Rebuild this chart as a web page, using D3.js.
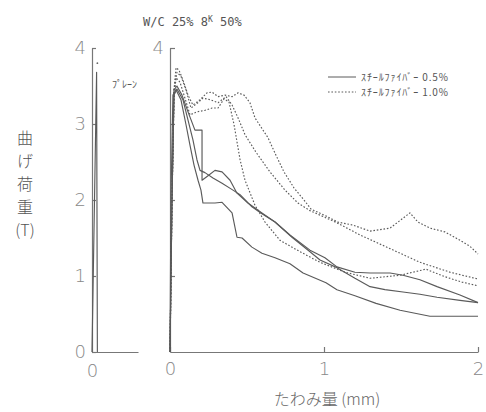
<!DOCTYPE html>
<html>
<head>
<meta charset="utf-8">
<script src="https://cdn.jsdelivr.net/npm/d3@7"></script>
<style>
  body { margin: 0; background: #fff; }
  .axis path, .axis line { stroke: #777; stroke-width: 1.2; }
  .axis text { fill: #888; font-family: "DejaVu Sans", sans-serif; font-size: 18px; font-weight: 200; }
  .curve { fill: none; stroke: #5a5a5a; stroke-width: 1.15; stroke-linejoin: round; }
  .dotted { stroke-dasharray: 1.6 1.8; }
</style>
</head>
<body>
<script>
// たわみ量 (mm) / 曲げ荷重 (T)
var plainX = [0, 0.03, 0.035];
var plainY = [0, 3.68, 0];

// スチールファイバー 0.5% (実線)
var s1x = [0, 0.013, 0.026, 0.045, 0.078, 0.117, 0.162, 0.208, 0.208, 0.247, 0.292, 0.338, 0.390, 0.435, 0.506, 0.597, 0.682, 0.779, 0.909, 1.006, 1.084, 1.201, 1.299, 1.429, 1.513, 1.623, 1.734, 1.883, 2.0];
var s1y = [0, 2.0, 3.45, 3.5, 3.38, 3.16, 2.92, 2.92, 2.26, 2.32, 2.39, 2.37, 2.26, 2.09, 1.96, 1.83, 1.71, 1.54, 1.34, 1.24, 1.12, 1.05, 1.04, 1.04, 1.01, 0.95, 0.86, 0.75, 0.65];
var s2x = [0, 0.013, 0.026, 0.045, 0.084, 0.117, 0.149, 0.175, 0.195, 0.227, 0.279, 0.338, 0.409, 0.455, 0.532, 0.597, 0.682, 0.792, 0.909, 0.974, 1.084, 1.201, 1.299, 1.396, 1.513, 1.623, 1.734, 1.883, 2.0];
var s2y = [0, 2.0, 3.38, 3.46, 3.32, 3.05, 2.79, 2.53, 2.39, 2.36, 2.29, 2.22, 2.13, 2.07, 1.91, 1.82, 1.71, 1.51, 1.32, 1.21, 1.11, 0.97, 0.86, 0.82, 0.79, 0.76, 0.72, 0.68, 0.65];
var s3x = [0, 0.006, 0.019, 0.039, 0.071, 0.104, 0.130, 0.156, 0.182, 0.201, 0.214, 0.260, 0.292, 0.338, 0.403, 0.435, 0.468, 0.532, 0.597, 0.682, 0.779, 0.864, 1.013, 1.084, 1.201, 1.338, 1.494, 1.688, 1.818, 2.0];
var s3y = [0, 2.0, 3.38, 3.45, 3.32, 2.99, 2.72, 2.46, 2.26, 2.13, 1.96, 1.96, 1.96, 1.97, 1.83, 1.51, 1.50, 1.38, 1.30, 1.24, 1.16, 1.04, 0.91, 0.82, 0.74, 0.64, 0.55, 0.47, 0.47, 0.47];

// スチールファイバー 1.0% (点線)
var d1x = [0, 0.013, 0.026, 0.039, 0.058, 0.084, 0.117, 0.149, 0.195, 0.240, 0.273, 0.312, 0.357, 0.403, 0.442, 0.481, 0.519, 0.552, 0.636, 0.688, 0.740, 0.805, 0.870, 0.916, 1.013, 1.088, 1.188, 1.299, 1.429, 1.558, 1.610, 1.688, 1.786, 1.883, 1.948, 2.0];
var d1y = [0, 2.0, 3.45, 3.74, 3.71, 3.58, 3.38, 3.25, 3.32, 3.41, 3.42, 3.36, 3.38, 3.36, 3.41, 3.38, 3.28, 3.08, 2.82, 2.59, 2.37, 2.16, 2.00, 1.88, 1.79, 1.71, 1.67, 1.59, 1.63, 1.83, 1.71, 1.63, 1.58, 1.47, 1.39, 1.29];
var d2x = [0, 0.013, 0.026, 0.045, 0.071, 0.104, 0.136, 0.169, 0.214, 0.260, 0.312, 0.364, 0.403, 0.442, 0.487, 0.558, 0.649, 0.747, 0.831, 0.909, 1.084, 1.234, 1.429, 1.623, 1.818, 2.0];
var d2y = [0, 2.0, 3.45, 3.68, 3.63, 3.45, 3.21, 3.26, 3.34, 3.32, 3.28, 3.36, 3.25, 3.08, 2.86, 2.63, 2.37, 2.13, 1.96, 1.86, 1.70, 1.54, 1.36, 1.18, 1.05, 0.96];
var d3x = [0, 0.013, 0.026, 0.039, 0.065, 0.097, 0.130, 0.175, 0.227, 0.273, 0.312, 0.351, 0.383, 0.416, 0.455, 0.487, 0.552, 0.617, 0.714, 0.844, 0.974, 1.136, 1.299, 1.494, 1.662, 1.786, 1.896, 2.0];
var d3y = [0, 2.0, 3.32, 3.61, 3.55, 3.34, 3.12, 3.16, 3.18, 3.21, 3.21, 3.33, 3.29, 2.99, 2.53, 2.26, 1.93, 1.71, 1.47, 1.32, 1.18, 1.05, 0.97, 1.01, 1.09, 0.99, 0.92, 0.87];

var yTicks = [0, 1, 2, 3, 4];
var xTicksR = [0, 1, 2];
var legendLabels = ["ｽﾁｰﾙﾌｧｲﾊﾞｰ 0.5%", "ｽﾁｰﾙﾌｧｲﾊﾞｰ 1.0%"];

var width = 486, height = 412;
var svg = d3.select("body").append("svg").attr("width", width).attr("height", height);

var y = d3.scaleLinear().domain([0, 4]).range([352, 48]);
var xL = d3.scaleLinear().domain([0, 0.3]).range([92, 138]);
var xR = d3.scaleLinear().domain([0, 2]).range([170, 478]);
var fmt = d3.format("d");

// left panel (プレーン)
svg.append("g").attr("class", "axis")
  .attr("transform", "translate(92,0)")
  .call(d3.axisLeft(y).tickValues(yTicks).tickSize(-4).tickSizeOuter(0).tickPadding(6).tickFormat(fmt));
svg.append("g").attr("class", "axis")
  .attr("transform", "translate(0,352)")
  .call(d3.axisBottom(xL).tickValues([0]).tickSize(0).tickSizeOuter(0).tickPadding(12).tickFormat(fmt));

// right panel
svg.append("g").attr("class", "axis")
  .attr("transform", "translate(170,0)")
  .call(d3.axisLeft(y).tickValues(yTicks.slice(1)).tickSize(-5).tickSizeOuter(0).tickPadding(6)
    .tickFormat(function (d) { return d === 4 ? "4" : ""; }));
svg.append("g").attr("class", "axis")
  .attr("transform", "translate(0,352)")
  .call(d3.axisBottom(xR).tickValues(xTicksR).tickSize(-5).tickSizeOuter(0).tickPadding(10).tickFormat(fmt));

function pts(xs, ys) { return xs.map(function (d, i) { return [d, ys[i]]; }); }

var lineL = d3.line().x(function (d) { return xL(d[0]); }).y(function (d) { return y(d[1]); });
var lineR = d3.line().x(function (d) { return xR(d[0]); }).y(function (d) { return y(d[1]); });

svg.append("path").attr("class", "curve").attr("d", lineL(pts(plainX, plainY)));
svg.append("circle").attr("cx", xL(0.035)).attr("cy", y(3.8)).attr("r", 0.9).attr("fill", "#666");

var solid = [pts(s1x, s1y), pts(s2x, s2y), pts(s3x, s3y)];
var dotted = [pts(d1x, d1y), pts(d2x, d2y), pts(d3x, d3y)];

svg.selectAll("path.solid")
  .data(solid)
  .enter().append("path")
  .attr("class", "curve solid")
  .attr("d", lineR);

svg.selectAll("path.dotted")
  .data(dotted)
  .enter().append("path")
  .attr("class", "curve dotted")
  .attr("d", lineR);

// texts
svg.append("text")
  .attr("x", 112).attr("y", 88)
  .attr("font-family", "Noto Sans CJK JP").attr("font-size", 10).attr("fill", "#555")
  .text("ﾌﾟﾚｰﾝ");

var heading = svg.append("text")
  .attr("x", 143).attr("y", 26)
  .attr("font-family", "DejaVu Sans Mono").attr("font-size", 12).attr("fill", "#555");
heading.append("tspan").text("W/C 25%  8");
heading.append("tspan").attr("dy", -4).attr("font-size", 8).text("K");
heading.append("tspan").attr("dy", 4).text(" 50%");

var leg = svg.selectAll("g.leg")
  .data(legendLabels)
  .enter().append("g")
  .attr("class", "leg")
  .attr("transform", function (d, i) { return "translate(328," + (77 + i * 15) + ")"; });
leg.append("line")
  .attr("class", function (d, i) { return i ? "curve dotted" : "curve"; })
  .attr("x1", 0).attr("x2", 28).attr("y1", 0).attr("y2", 0)
  .style("stroke-width", 1);
leg.append("text")
  .attr("x", 33).attr("y", 4)
  .attr("font-family", "Noto Sans CJK JP").attr("font-size", 10).attr("letter-spacing", 0.9).attr("fill", "#555")
  .text(function (d) { return d; });

svg.append("text")
  .attr("x", 327).attr("y", 405).attr("text-anchor", "middle")
  .attr("font-family", "Noto Sans CJK JP").attr("font-size", 16).attr("font-weight", 300).attr("fill", "#666")
  .text("たわみ量 (mm)");

svg.append("text")
  .attr("font-family", "Noto Sans CJK JP").attr("font-size", 16).attr("font-weight", 300).attr("fill", "#555")
  .attr("text-anchor", "middle")
  .selectAll("tspan")
  .data(["曲", "げ", "荷", "重", "(T)"])
  .enter().append("tspan")
  .attr("x", 25)
  .attr("y", function (d, i) { return 144 + i * 23; })
  .text(function (d) { return d; });
</script>
</body>
</html>
